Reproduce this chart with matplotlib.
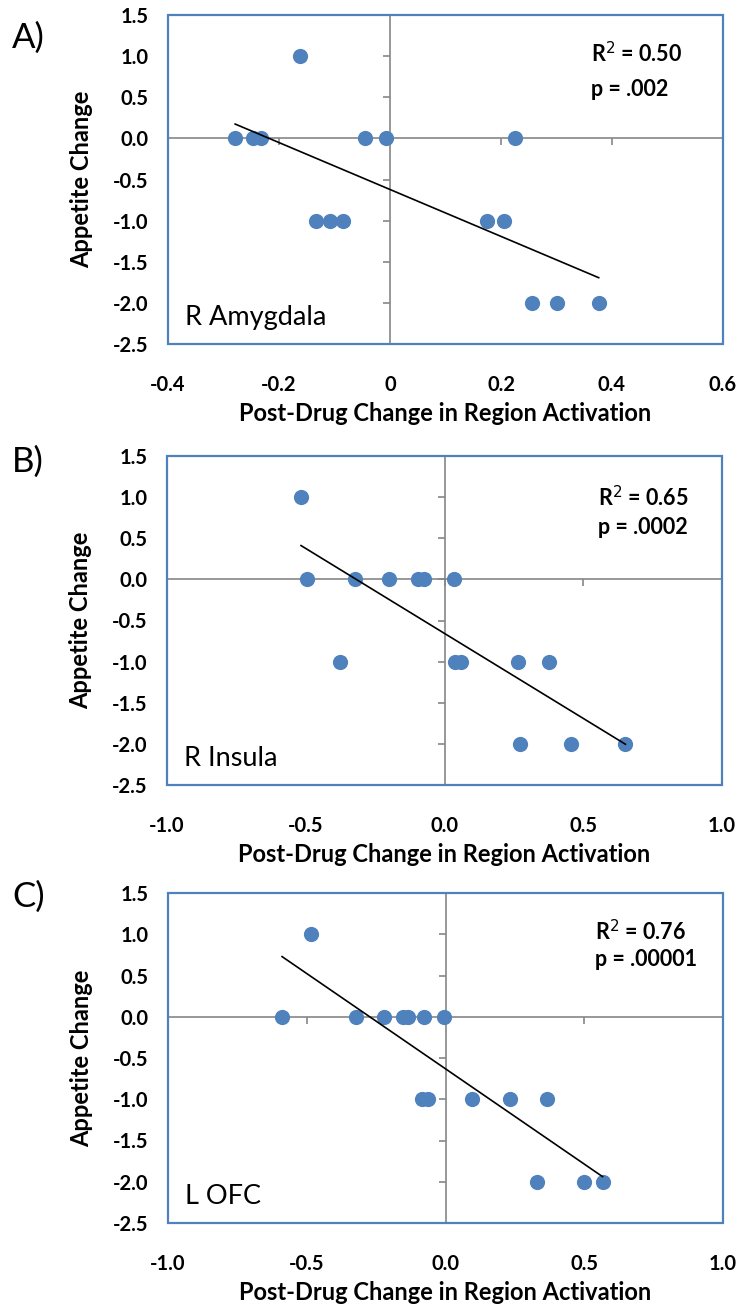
import numpy as np
import matplotlib
matplotlib.use("Agg")
import matplotlib.pyplot as plt
from matplotlib.patches import Rectangle

plt.rcParams['font.family'] = ['Lato', 'DejaVu Sans']

# ---- data ----
amy_x = [-0.162, -0.279, -0.246, -0.232, -0.045, -0.007, 0.225,
         -0.133, -0.109, -0.084, 0.174, 0.205, 0.255, 0.300, 0.376]
amy_y = [1, 0, 0, 0, 0, 0, 0, -1, -1, -1, -1, -1, -2, -2, -2]

ins_x = [-0.517, -0.497, -0.324, -0.200, -0.097, -0.073, 0.034,
         -0.375, 0.037, 0.059, 0.265, 0.377, 0.272, 0.455, 0.652]
ins_y = [1, 0, 0, 0, 0, 0, 0, -1, -1, -1, -1, -1, -2, -2, -2]

ofc_x = [-0.483, -0.589, -0.321, -0.221, -0.154, -0.135, -0.076, -0.007,
         -0.083, -0.062, 0.094, 0.232, 0.367, 0.331, 0.499, 0.566]
ofc_y = [1, 0, 0, 0, 0, 0, 0, 0, -1, -1, -1, -1, -1, -2, -2, -2]

panels = ["A)", "B)", "C)"]
regions = ["R Amygdala", "R Insula", "L OFC"]
r2_text = ["R$^2$ = 0.50", "R$^2$ = 0.65", "R$^2$ = 0.76"]
p_text = ["p = .002", "p = .0002", "p = .00001"]
xticks_list = [[-0.4, -0.2, 0, 0.2, 0.4, 0.6],
               [-1.0, -0.5, 0.0, 0.5, 1.0],
               [-1.0, -0.5, 0.0, 0.5, 1.0]]
xticklabels_list = [["-0.4", "-0.2", "0", "0.2", "0.4", "0.6"],
                    ["-1.0", "-0.5", "0.0", "0.5", "1.0"],
                    ["-1.0", "-0.5", "0.0", "0.5", "1.0"]]
yticks = [1.5, 1.0, 0.5, 0.0, -0.5, -1.0, -1.5, -2.0, -2.5]
yticklabels = ["1.5", "1.0", "0.5", "0.0", "-0.5", "-1.0", "-1.5", "-2.0", "-2.5"]
xs = [amy_x, ins_x, ofc_x]
ys = [amy_y, ins_y, ofc_y]

W, H = 742, 1308
fig = plt.figure(figsize=(W / 100, H / 100), dpi=100)

boxes = [(168, 15, 723, 344), (167, 456, 722, 785), (168, 893, 723, 1223)]
letter_y = [38, 462, 897]
r2_pos = [(0.762, 0.884), (0.776, 0.875), (0.770, 0.882)]
p_pos = [(0.762, 0.775), (0.776, 0.784), (0.770, 0.798)]

blue = "#4F81BD"
gray = "#868686"

for i in range(3):
    l, t, r, b = boxes[i]
    ax = fig.add_axes([l / W, 1 - b / H, (r - l) / W, (b - t) / H])
    xt = xticks_list[i]
    ax.set_xlim(xt[0], xt[-1])
    ax.set_ylim(-2.5, 1.5)

    for s in ['top', 'right']:
        ax.spines[s].set_visible(False)
    ax.spines['left'].set_position(('data', 0))
    ax.spines['bottom'].set_position(('data', 0))
    for s in ['left', 'bottom']:
        ax.spines[s].set_color(gray)
        ax.spines[s].set_linewidth(1.2)
    ax.set_xticks(xt)
    ax.set_yticks(yticks)
    ax.tick_params(axis='both', direction='out', length=5, width=1.2,
                   color=gray, labelbottom=False, labelleft=False)
    ax.add_patch(Rectangle((0, 0), 1, 1, transform=ax.transAxes, fill=False,
                           edgecolor=blue, linewidth=1.6, zorder=5, clip_on=False))

    secx = ax.secondary_xaxis('bottom')
    secx.spines['bottom'].set_visible(False)
    secx.set_xticks(xt, xticklabels_list[i])
    secx.tick_params(length=0, pad=22, labelsize=14.5)
    for lab in secx.get_xticklabels():
        lab.set_fontweight('bold')

    secy = ax.secondary_yaxis('left')
    secy.spines['left'].set_visible(False)
    secy.set_yticks(yticks, yticklabels)
    secy.tick_params(length=0, pad=14, labelsize=14.5)
    for lab in secy.get_yticklabels():
        lab.set_fontweight('bold')

    x = np.array(xs[i])
    y = np.array(ys[i])
    ax.scatter(x, y, s=120, color=blue, zorder=6, clip_on=False, linewidths=0)
    m, c = np.polyfit(x, y, 1)
    xx = np.array([x.min(), x.max()])
    ax.plot(xx, m * xx + c, color='black', linewidth=1.2, zorder=7)

    ax.text(r2_pos[i][0], r2_pos[i][1], r2_text[i], transform=ax.transAxes,
            fontsize=15.5, fontweight='bold', ha='left', va='center')
    ax.text(p_pos[i][0], p_pos[i][1], p_text[i], transform=ax.transAxes,
            fontsize=15.5, fontweight='bold', ha='left', va='center')
    ax.text(0.031, 0.058, regions[i], transform=ax.transAxes, fontsize=19.5,
            ha='left', va='baseline')

    ax.text(0.5, -0.21, "Post-Drug Change in Region Activation",
            transform=ax.transAxes, fontsize=17, fontweight='bold',
            ha='center', va='center')
    ax.text(-0.155, 0.5, "Appetite Change", transform=ax.transAxes,
            fontsize=17, fontweight='bold', rotation=90,
            ha='center', va='center')

    fig.text(12 / W, 1 - letter_y[i] / H, panels[i], fontsize=25,
             ha='left', va='center')

fig.savefig("out.png", dpi=100)
